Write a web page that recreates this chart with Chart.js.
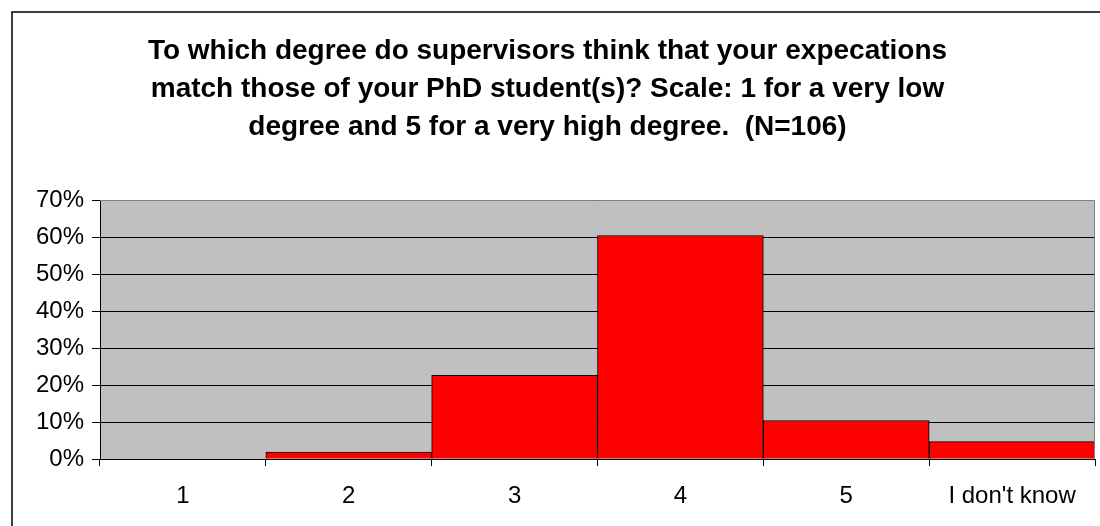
<!DOCTYPE html>
<html>
<head>
<meta charset="utf-8">
<script src="https://cdn.jsdelivr.net/npm/chart.js@4/dist/chart.umd.min.js"></script>
<style>
html,body{margin:0;padding:0;background:#fff;}
canvas{display:block;}
</style>
</head>
<body>
<canvas id="c" width="1100" height="526"></canvas>
<script>
const categories = ["1", "2", "3", "4", "5", "I don't know"];
const shares = [0, 1.9, 22.6, 60.4, 10.4, 4.7];
const yTicks = [0, 10, 20, 30, 40, 50, 60, 70];
const titleLines = [
  "To which degree do supervisors think that your expecations",
  "match those of your PhD student(s)? Scale: 1 for a very low",
  "degree and 5 for a very high degree.  (N=106)"
];

const FONT = "'Liberation Sans', Arial, sans-serif";

const plotBg = {
  id: 'plotBg',
  beforeDraw(chart) {
    const {ctx, chartArea: a} = chart;
    ctx.save();
    ctx.fillStyle = '#fff';
    ctx.fillRect(0, 0, chart.width, chart.height);
    ctx.strokeStyle = '#000';
    ctx.lineWidth = 1.5;
    ctx.strokeRect(12, 12, 3000, 3000);
    ctx.fillStyle = '#C0C0C0';
    ctx.fillRect(a.left, a.top, a.right - a.left, a.bottom - a.top);
    ctx.restore();
  },
  afterDatasetsDraw(chart) {
    const {ctx, chartArea: a} = chart;
    ctx.save();
    ctx.strokeStyle = '#808080';
    ctx.lineWidth = 1;
    ctx.beginPath();
    ctx.moveTo(a.left, a.top + 0.5);
    ctx.lineTo(a.right, a.top + 0.5);
    ctx.moveTo(a.right - 0.5, a.top);
    ctx.lineTo(a.right - 0.5, a.bottom);
    ctx.stroke();
    ctx.restore();
  }
};

new Chart(document.getElementById('c'), {
  type: 'bar',
  data: {
    labels: categories,
    datasets: [{
      data: shares,
      backgroundColor: '#FF0000',
      borderColor: '#000',
      borderWidth: 1,
      borderSkipped: 'start',
      barPercentage: 1,
      categoryPercentage: 1
    }]
  },
  options: {
    responsive: false,
    devicePixelRatio: 1,
    animation: false,
    layout: { padding: { left: 0, right: 5, top: 0, bottom: 0 } },
    plugins: {
      legend: { display: false },
      tooltip: { enabled: false },
      title: {
        display: true,
        text: titleLines,
        color: '#000',
        font: { family: FONT, size: 28, weight: 'bold', lineHeight: 38 / 28 },
        padding: { top: 32, bottom: 54 }
      }
    },
    scales: {
      x: {
        grid: { display: true, drawOnChartArea: false, offset: true, color: '#000', tickLength: 7, tickColor: '#000' },
        border: { display: true, color: '#000', width: 1 },
        ticks: { color: '#000', font: { family: FONT, size: 24, lineHeight: 1 }, padding: 18 }
      },
      y: {
        min: 0,
        max: 70,
        afterFit(s) { s.width = 100; },
        afterBuildTicks(s) { s.ticks = yTicks.map(v => ({ value: v })); },
        grid: { color: '#000', lineWidth: 1, tickLength: 8, tickColor: '#000', drawTicks: true },
        border: { display: true, color: '#000', width: 1 },
        ticks: { color: '#000', font: { family: FONT, size: 24 }, padding: 8, callback: v => v + '%' }
      }
    }
  },
  plugins: [plotBg]
});
</script>
</body>
</html>
